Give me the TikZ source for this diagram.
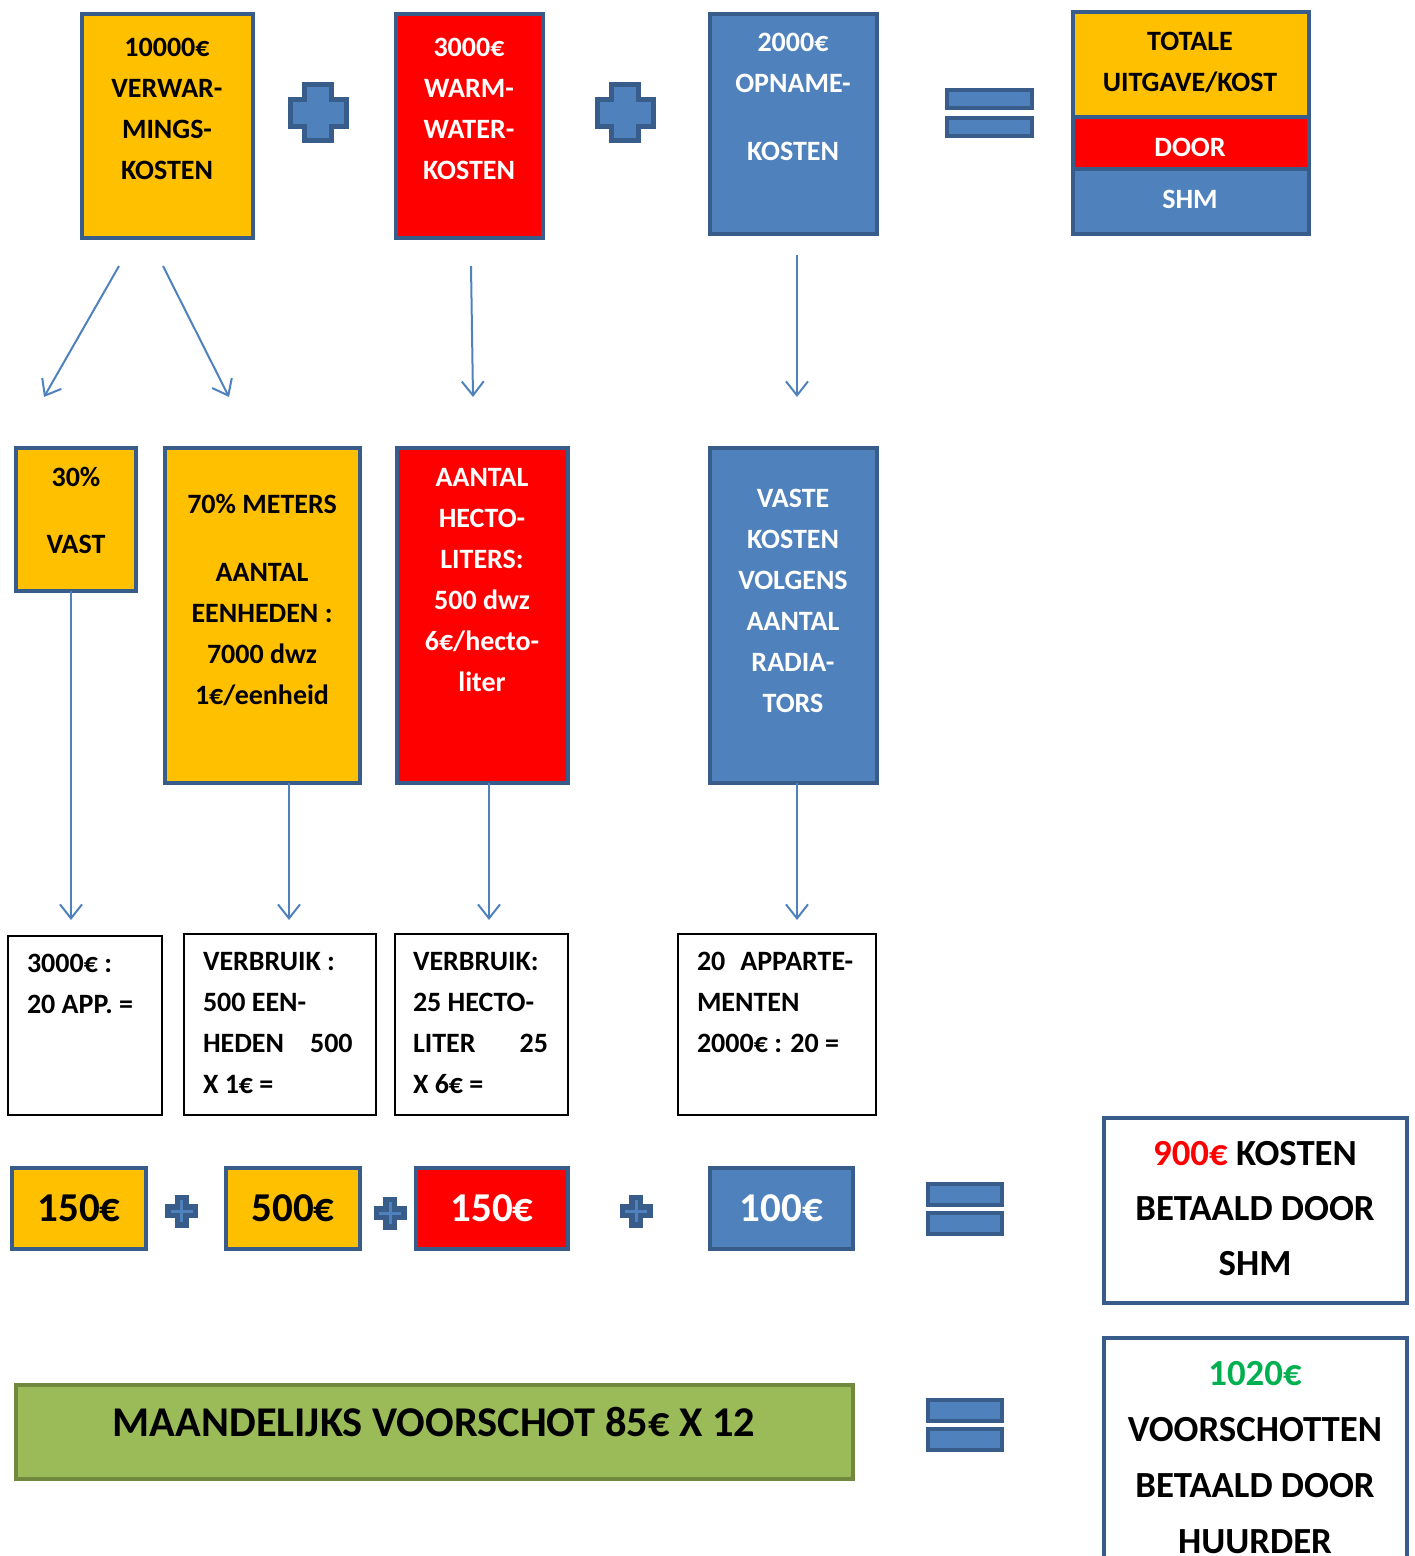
\documentclass[tikz,border=0pt]{standalone}
\usepackage{fontspec}
\setmainfont{Carlito}
\definecolor{colorFrame}{HTML}{385D8A}
\definecolor{colorShm}{HTML}{4F81BD}
\definecolor{colorHeating}{HTML}{FFC000}
\definecolor{colorWater}{HTML}{FF0000}
\definecolor{colorAdvance}{HTML}{9BBB59}
\definecolor{colorAdvanceFrame}{HTML}{71893F}
\definecolor{colorTenant}{HTML}{00B050}
\usetikzlibrary{arrows.meta, positioning}
\tikzset{
  pics/plussign/.style n args={3}{code={
    \pgfmathsetmacro\plh{#1/2}\pgfmathsetmacro\plb{#2/2}
    \draw[fill=colorShm, draw=colorFrame, line width=#3] (-\plb,-\plh) -- (\plb,-\plh) -- (\plb,-\plb) -- (\plh,-\plb) -- (\plh,\plb) -- (\plb,\plb) -- (\plb,\plh) -- (-\plb,\plh) -- (-\plb,\plb) -- (-\plh,\plb) -- (-\plh,-\plb) -- (-\plb,-\plb) -- cycle;
  }},
  pics/equalsign/.style n args={3}{code={
    \draw[fill=colorShm, draw=colorFrame, line width=2pt] (-#1/2,-#3/2-#2/2) rectangle (#1/2,-#3/2+#2/2);
    \draw[fill=colorShm, draw=colorFrame, line width=2pt] (-#1/2,#3/2-#2/2) rectangle (#1/2,#3/2+#2/2);
  }}
}

\begin{document}
\begin{tikzpicture}[x=0.5pt, y=-0.5pt, >={Straight Barb[length=7pt,width=11pt]},
  every node/.style={font=\fontsize{14}{20.5}\selectfont\bfseries, inner sep=0pt, outer sep=0pt},
  boxsize/.style 2 args={minimum width=#1*0.5pt, minimum height=#2*0.5pt},
  costbox/.style={rectangle, draw=colorFrame, line width=2pt, anchor=north west},
  heatbox/.style={costbox, fill=colorHeating},
  waterbox/.style={costbox, fill=colorWater},
  shmbox/.style={costbox, fill=colorShm},
  calcbox/.style={rectangle, draw=black, line width=1pt, fill=white, anchor=north west},
  boxtext/.style={align=center, anchor=base},
  calctext/.style={align=left, anchor=base west},
  sumtext/.style={font=\fontsize{20.5}{24}\selectfont\bfseries},
  resulttext/.style={boxtext, font=\fontsize{18.4}{27.4}\selectfont\bfseries},
  flow/.style={->, colorShm, line width=1pt}]
\useasboundingbox (0,0) rectangle (1414,1556);
\clip (0,0) rectangle (1414,1556);

% total costs (text nodes sit on the baseline of their last line)
\node[heatbox, boxsize={171}{224}] (heating) at (82,14) {};
\node[boxtext] (heatingText) at (167,180) {10000€\\VERWAR-\\MINGS-\\KOSTEN};
\pic at (318,113) {plussign={56}{27}{2.5pt}};
\node[waterbox, boxsize={147}{224}] (water) at (396,14) {};
\node[boxtext, text=white] (waterText) at (469,180) {3000€\\WARM-\\WATER-\\KOSTEN};
\pic at (625,113) {plussign={56}{27}{2.5pt}};
\node[shmbox, boxsize={167}{220}] (reading) at (710,14) {};
\node[boxtext, text=white] (readingText) at (793,161) {2000€\\OPNAME-\\[13.5pt]KOSTEN};
\pic at (989.5,113) {equalsign={85}{18}{28}};

% legend
\node[heatbox, boxsize={236}{105}] (legendTotal) at (1073,12) {};
\node[waterbox, boxsize={236}{52}, below=0pt of legendTotal] (legendDoor) {};
\node[shmbox, boxsize={236}{65}, below=0pt of legendDoor] (legendShm) {};
\node[boxtext] (legendTotalText) at (1190,92) {TOTALE\\UITGAVE/KOST};
\node[boxtext, text=white] (legendDoorText) at (1190,157) {DOOR};
\node[boxtext, text=white] (legendShmText) at (1190,209) {SHM};

% split
\coordinate (fixedStart) at (119,266);
\coordinate (fixedTip) at (44,397);
\coordinate (metersStart) at (163,266);
\coordinate (metersTip) at (229,397);
\coordinate (hectoStart) at (471,266);
\coordinate (hectoTip) at (473,397);
\coordinate (radiatorsStart) at (797,255);
\coordinate (radiatorsTip) at (797,397);
\draw[flow] (fixedStart) -- (fixedTip);
\draw[flow] (metersStart) -- (metersTip);
\draw[flow] (hectoStart) -- (hectoTip);
\draw[flow] (radiatorsStart) -- (radiatorsTip);

\node[heatbox, boxsize={120}{143}] (fixed) at (16,448) {};
\node[boxtext] (fixedText) at (76,553) {30\%\\[13pt]VAST};
\node[heatbox, boxsize={195}{335}] (meters) at (165,448) {};
\node[boxtext] (metersText) at (262,704) {70\% METERS\\[13.5pt]AANTAL\\EENHEDEN :\\7000 dwz\\1€/eenheid};
\node[waterbox, boxsize={171}{335}] (hectoliters) at (397,448) {};
\node[boxtext, text=white] (hectolitersText) at (482,691) {AANTAL\\HECTO-\\LITERS:\\500 dwz\\6€/hecto-\\liter};
\node[shmbox, boxsize={167}{335}] (radiators) at (710,448) {};
\node[boxtext, text=white] (radiatorsText) at (793,712) {VASTE\\KOSTEN\\VOLGENS\\AANTAL\\RADIA-\\TORS};

% per flat
\coordinate (fixedCalcTip) at (71,920);
\coordinate (metersCalcTip) at (289,920);
\coordinate (hectoCalcTip) at (489,920);
\coordinate (flatsCalcTip) at (797,920);
\draw[flow] (fixed.south -| fixedCalcTip) -- (fixedCalcTip);
\draw[flow] (meters.south -| metersCalcTip) -- (metersCalcTip);
\draw[flow] (hectoliters.south -| hectoCalcTip) -- (hectoCalcTip);
\draw[flow] (radiators.south -| flatsCalcTip) -- (flatsCalcTip);

\node[calcbox, boxsize={154}{179}] (fixedCalc) at (8,936) {};
\node[calctext] (fixedCalcText) at (27,1013) {3000€ :\\20 APP. =};
\node[calcbox, boxsize={192}{181}] (metersCalc) at (184,934) {};
\node[calctext] (metersCalcText) at (203,1093) {VERBRUIK :\\500 EEN-\\HEDEN\hspace{13pt}500\\X 1€ =};
\node[calcbox, boxsize={173}{181}] (hectoCalc) at (395,934) {};
\node[calctext] (hectoCalcText) at (413,1093) {VERBRUIK:\\25 HECTO-\\LITER\hspace{22pt}25\\X 6€ =};
\node[calcbox, boxsize={198}{181}] (flatsCalc) at (678,934) {};
\node[calctext] (flatsCalcText) at (697,1052) {20\hspace{7.5pt}APPARTE-\\MENTEN\\2000€ : 20 =};

% sums
\node[heatbox, boxsize={134}{81}, sumtext] (fixedSum) at (12,1168) {150€};
\pic at (181.5,1211) {plussign={27.5}{8.5}{2.75pt}};
\node[heatbox, boxsize={134}{81}, sumtext] (metersSum) at (226,1168) {500€};
\pic at (390,1213) {plussign={27.5}{8.5}{2.75pt}};
\node[waterbox, boxsize={152}{81}, sumtext, text=white] (hectoSum) at (416,1168) {150€};
\pic at (636,1211) {plussign={27.5}{8.5}{2.75pt}};
\node[shmbox, boxsize={143}{81}, sumtext, text=white] (flatsSum) at (710,1168) {100€};
\pic at (965,1209) {equalsign={74}{21}{29}};
\node[costbox, fill=white, boxsize={303}{185}] (shmPaid) at (1104,1118) {};
\node[resulttext] (shmPaidText) at (1255,1275) {\textcolor{colorWater}{900€} KOSTEN\\BETAALD DOOR\\SHM};

% advances
\node[costbox, fill=colorAdvance, draw=colorAdvanceFrame, boxsize={837}{94}] (advance) at (16,1385) {};
\node[boxtext, font=\fontsize{21.2}{25}\selectfont\bfseries] (advanceText) at (434,1436) {MAANDELIJKS VOORSCHOT 85€ X 12};
\pic at (965,1425) {equalsign={74}{21}{29}};
\node[costbox, fill=white, boxsize={303}{250}] (tenantPaid) at (1104,1338) {};
\node[resulttext, font=\fontsize{18.4}{28}\selectfont\bfseries] (tenantPaidText) at (1255,1553) {\textcolor{colorTenant}{1020€}\\VOORSCHOTTEN\\BETAALD DOOR\\HUURDER};
\end{tikzpicture}
\end{document}
